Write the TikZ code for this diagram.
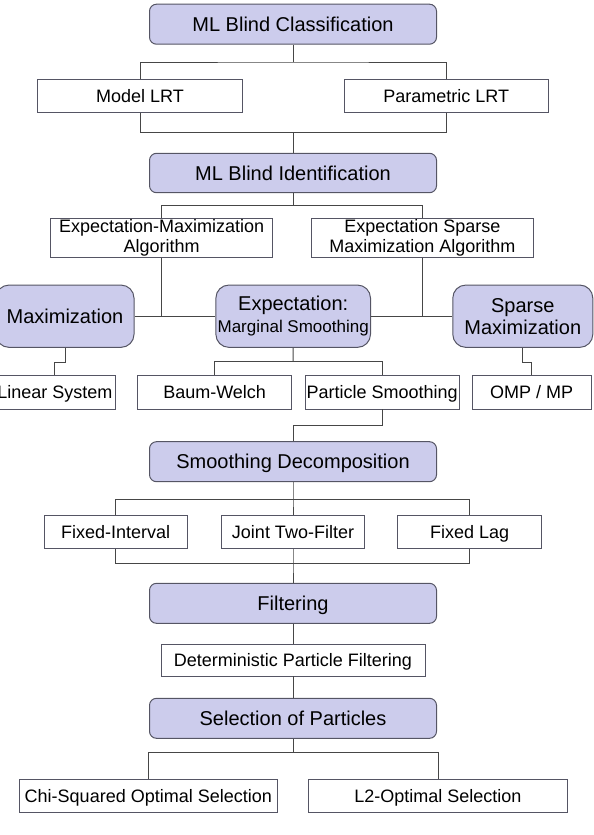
\documentclass[tikz,border=0pt]{standalone}
\usepackage{fontspec}
\setmainfont{Liberation Sans}
\usepackage{tikz}
\usetikzlibrary{shapes}
\definecolor{lav}{RGB}{204,204,236}
\definecolor{rim}{RGB}{85,85,100}
\definecolor{wirec}{RGB}{70,70,70}

\begin{document}
\begin{tikzpicture}[x=1pt,y=-1pt]
    \tikzstyle{ovl}=[rectangle,draw=rim,fill=lav,line width=1pt,rounded corners=13pt,inner sep=0pt,font=\fontsize{20}{22}\selectfont,align=center]
    \tikzstyle{hdr}=[ovl,rounded corners=7pt,text height=14.3pt,text depth=0pt]
    \tikzstyle{box}=[rectangle,draw=rim,fill=white,line width=0.8pt,inner sep=0pt,font=\fontsize{18}{20}\selectfont,align=center]
    \tikzstyle{leaf}=[box,text height=12.9pt,text depth=0pt]
    \tikzstyle{wire}=[draw=wirec,line width=1pt]
    \useasboundingbox (0,0) rectangle (594,835);
    % classification
    \node[hdr,minimum width=287,minimum height=40] (mlbc) at (293,24.2) {ML Blind Classification};
    \node[leaf,minimum width=205,minimum height=33] (mlrt) at (140,96.2) {Model LRT};
    \node[leaf,minimum width=204.5,minimum height=33] (plrt) at (446.2,96.2) {Parametric LRT};
    \node[hdr,minimum width=287,minimum height=39.4] (mlbi) at (293,173) {ML Blind Identification};
    % identification
    \node[box,minimum width=222.3,minimum height=39] (emalg) at (161.6,237.8) {Expectation-Maximization\\Algorithm};
    \node[box,minimum width=222,minimum height=39] (esmalg) at (422.3,237.8) {Expectation Sparse\\Maximization Algorithm};
    \node[ovl,minimum width=138,minimum height=62.3] (maxi) at (65,316.2) {Maximization};
    \node[ovl,minimum width=154.6,minimum height=62.3] (expe) at (293.2,316.2) {Expectation:\\{\fontsize{17}{19}\selectfont Marginal Smoothing}};
    \node[ovl,minimum width=140,minimum height=62.3] (smax) at (522.8,316.2) {Sparse\\Maximization};
    \node[leaf,minimum width=120,minimum height=33.3] (linsys) at (54.9,392.3) {Linear System};
    \node[leaf,minimum width=154.2,minimum height=33.3] (baum) at (214.6,392.3) {Baum-Welch};
    \node[leaf,minimum width=154.6,minimum height=33.3] (psm) at (382.2,392.3) {Particle Smoothing};
    \node[leaf,minimum width=118.6,minimum height=33.3] (omp) at (531.6,392.3) {OMP / MP};
    % smoothing
    \node[hdr,minimum width=287,minimum height=40] (sdec) at (293,461.7) {Smoothing Decomposition};
    \node[leaf,minimum width=142.8,minimum height=32.6] (fint) at (115.7,532) {Fixed-Interval};
    \node[leaf,minimum width=142.8,minimum height=32.6] (jtf) at (293,532) {Joint Two-Filter};
    \node[leaf,minimum width=144,minimum height=32.6] (flag) at (469.7,532) {Fixed Lag};
    \node[hdr,minimum width=287,minimum height=40] (filt) at (293,603.3) {Filtering};
    \node[leaf,minimum width=264,minimum height=32] (dpf) at (293,660) {Deterministic Particle Filtering};
    \node[hdr,minimum width=287,minimum height=40] (sel) at (293,718.3) {Selection of Particles};
    \node[leaf,minimum width=258.8,minimum height=33] (chi) at (148.3,795.8) {Chi-Squared Optimal Selection};
    \node[leaf,minimum width=258.7,minimum height=33] (ltwo) at (438,795.8) {L2-Optimal Selection};
    % junctions
    \coordinate (j1) at (293,62);
    \coordinate (j2) at (293,132.3);
    \coordinate (j3) at (293,205.7);
    \coordinate (j6) at (293,361.7);
    \coordinate (j8) at (293,425);
    \coordinate (j9) at (293,499.3);
    \coordinate (j10) at (293,563.3);
    \coordinate (j12) at (293,752.3);
    % connectors
    \draw[wire] (mlbc.south) -- (j1);
    \draw[wire] (mlrt.north) |- (j1) -| (plrt.north);
    \draw[wire] (mlrt.south) |- (j2) -| (plrt.south);
    \draw[wire] (j2) -- (mlbi.north);
    \draw[wire] (mlbi.south) -- (j3);
    \draw[wire] (emalg.north) |- (j3) -| (esmalg.north);
    \draw[wire] (emalg.south) -- (emalg.south |- maxi.east);
    \draw[wire] (esmalg.south) -- (esmalg.south |- smax.west);
    \draw[wire] (maxi) -- (expe);
    \draw[wire] (expe) -- (smax);
    \draw[wire] (maxi.south) -- ++(0,14.4) -| (linsys.north);
    \draw[wire] (expe.south) -- (j6);
    \draw[wire] (baum.north) |- (j6) -| (psm.north);
    \draw[wire] (smax.south) -- ++(0,14.4) -| (omp.north);
    \draw[wire] (psm.south) |- (j8) -- (sdec.north);
    \draw[wire] (sdec.south) -- (j9) -- (jtf.north);
    \draw[wire] (fint.north) |- (j9) -| (flag.north);
    \draw[wire] (fint.south) |- (j10) -| (flag.south);
    \draw[wire] (jtf.south) -- (j10) -- (filt.north);
    \draw[wire] (filt.south) -- (dpf.north);
    \draw[wire] (dpf.south) -- (sel.north);
    \draw[wire] (sel.south) -- (j12);
    \draw[wire] (chi.north) |- (j12) -| (ltwo.north);
\end{tikzpicture}
\end{document}
